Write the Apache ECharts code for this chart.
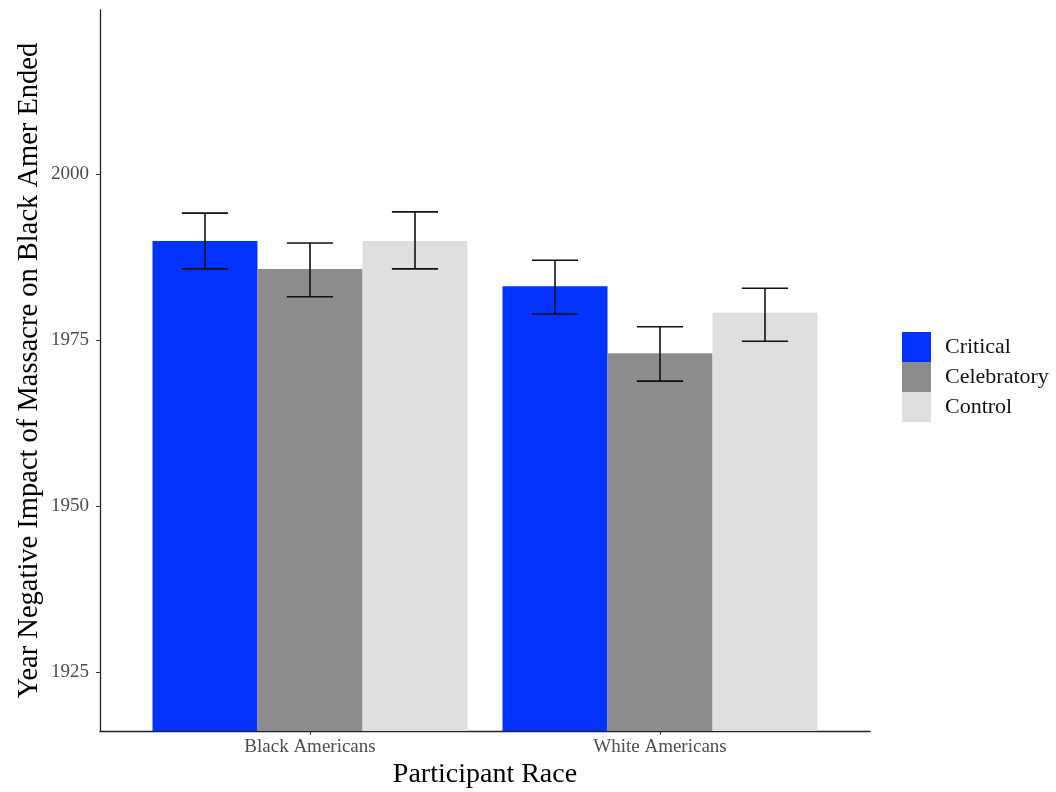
<!DOCTYPE html>
<html>
<head>
<meta charset="utf-8">
<script src="https://cdn.jsdelivr.net/npm/echarts@6/dist/echarts.min.js"></script>
<style>html,body{margin:0;padding:0;background:#fff}#c{width:1056px;height:792px}</style>
</head>
<body>
<div id="c"></div>
<script>
var categories = ['Black Americans', 'White Americans'];
var seriesNames = ['Critical', 'Celebratory', 'Control'];
var critical = [1989.9, 1983.1];
var celebratory = [1985.7, 1973.0];
var control = [1989.9, 1979.1];
var criticalLow = [1985.7, 1978.9];
var criticalHigh = [1994.1, 1987.0];
var celebratoryLow = [1981.5, 1968.8];
var celebratoryHigh = [1989.6, 1977.0];
var controlLow = [1985.7, 1974.8];
var controlHigh = [1994.3, 1982.8];
var yTicks = [1925, 1950, 1975, 2000];

var colors = ['#0433FF', '#8C8C8C', '#DFDFDF'];
var values = [critical, celebratory, control];
var lows = [criticalLow, celebratoryLow, controlLow];
var highs = [criticalHigh, celebratoryHigh, controlHigh];
var Y_MIN = 1916.1, Y_MAX = 2024.7;
var font = 'Liberation Serif';

var series = [];
seriesNames.forEach(function (name, s) {
  var data = categories.map(function (c, i) {
    return [i + 1 + (s - 1) * 0.3, values[s][i], lows[s][i], highs[s][i]];
  });
  series.push({
    name: name,
    type: 'custom',
    itemStyle: { color: colors[s] },
    data: data,
    encode: { x: 0, y: [1, 2, 3] },
    renderItem: function (params, api) {
      var x = api.value(0), v = api.value(1);
      var p0 = api.coord([x - 0.15, v]);
      var p1 = api.coord([x + 0.15, Y_MIN]);
      return {
        type: 'rect',
        shape: { x: p0[0], y: p0[1], width: p1[0] - p0[0], height: p1[1] - p0[1] },
        style: { fill: colors[s] }
      };
    },
    z: 2
  });
});
seriesNames.forEach(function (name, s) {
  var data = categories.map(function (c, i) {
    return [i + 1 + (s - 1) * 0.3, lows[s][i], highs[s][i]];
  });
  series.push({
    type: 'custom',
    data: data,
    encode: { x: 0, y: [1, 2] },
    renderItem: function (params, api) {
      var x = api.value(0), lo = api.value(1), hi = api.value(2);
      var a = api.coord([x, lo]), b = api.coord([x, hi]);
      var l = api.coord([x - 0.066, lo])[0], r = api.coord([x + 0.066, lo])[0];
      var st = { stroke: '#111', lineWidth: 1.6 };
      return {
        type: 'group',
        children: [
          { type: 'line', shape: { x1: a[0], y1: a[1], x2: b[0], y2: b[1] }, style: st },
          { type: 'line', shape: { x1: l, y1: a[1], x2: r, y2: a[1] }, style: st },
          { type: 'line', shape: { x1: l, y1: b[1], x2: r, y2: b[1] }, style: st }
        ]
      };
    },
    z: 3
  });
});

var chart = echarts.init(document.getElementById('c'));
chart.setOption({
  backgroundColor: '#fff',
  animation: false,
  grid: { left: 100, right: 186, top: 10, bottom: 61, containLabel: false, outerBoundsMode: 'none' },
  legend: {
    orient: 'vertical',
    left: 902, top: 332,
    padding: 0,
    itemWidth: 29, itemHeight: 30, itemGap: 0,
    icon: 'rect',
    data: seriesNames.map(function (n, i) { return { name: n, itemStyle: { color: colors[i] } }; }),
    textStyle: { fontFamily: font, fontSize: 22, color: '#111', padding: [0, 0, 0, 9] },
    selectedMode: false
  },
  xAxis: {
    type: 'value',
    min: 0.4, max: 2.6,
    name: 'Participant Race',
    nameLocation: 'middle',
    nameGap: 30,
    nameMoveOverlap: false,
    nameTextStyle: { fontFamily: font, fontSize: 28, color: '#000' },
    splitLine: { show: false },
    axisLine: { show: true, lineStyle: { color: '#222', width: 1.3 } },
    axisTick: { show: true, length: 4, customValues: [1, 2], lineStyle: { color: '#333' } },
    axisLabel: {
      customValues: [1, 2], margin: 7,
      fontFamily: font, fontSize: 19, color: '#4d4d4d',
      formatter: function (v) { return categories[Math.round(v) - 1]; }
    }
  },
  yAxis: {
    type: 'value',
    min: Y_MIN, max: Y_MAX,
    name: 'Year Negative Impact of Massacre on Black Amer Ended',
    nameLocation: 'middle',
    nameGap: 56,
    nameMoveOverlap: false,
    nameTextStyle: { fontFamily: font, fontSize: 28.5, color: '#000' },
    splitLine: { show: false },
    axisLine: { show: true, lineStyle: { color: '#222', width: 1.3 } },
    axisTick: { show: true, length: 4, customValues: yTicks, lineStyle: { color: '#333' } },
    axisLabel: {
      customValues: yTicks, margin: 11,
      fontFamily: font, fontSize: 19, color: '#4d4d4d',
      formatter: function (v) { return String(Math.round(v)); }
    }
  },
  series: series
});
</script>
</body>
</html>
